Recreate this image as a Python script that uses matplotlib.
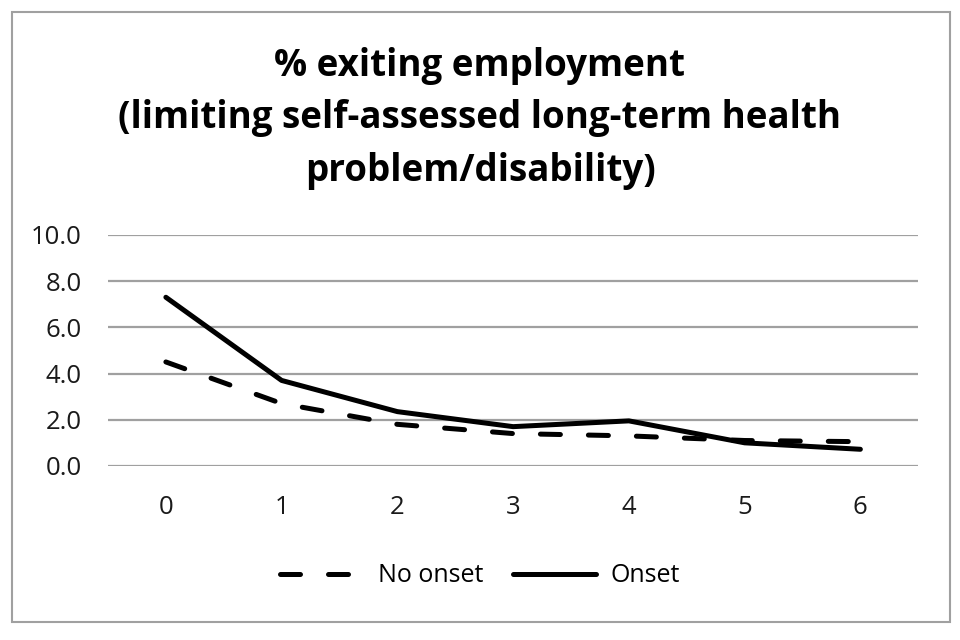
import matplotlib
matplotlib.use('Agg')
import matplotlib.pyplot as plt
from matplotlib.patches import Rectangle

plt.rcParams['font.family'] = ['Open Sans', 'DejaVu Sans']

years = [0, 1, 2, 3, 4, 5, 6]
no_onset = [4.5, 2.7, 1.8, 1.4, 1.3, 1.1, 1.05]
onset = [7.3, 3.7, 2.35, 1.7, 1.95, 1.0, 0.72]

fig = plt.figure(figsize=(9.6, 6.4), dpi=100)
fig.patches.append(Rectangle((0.013, 0.028), 0.977, 0.953, transform=fig.transFigure,
                             fill=False, edgecolor='#a0a0a0', linewidth=1.5))
ax = fig.add_axes([0.1125, 0.272, 0.844, 0.361])

ax.plot(years, no_onset, color='black', linewidth=3.6, dashes=(4, 5.6),
        solid_capstyle='round', dash_capstyle='round', label='No onset')
ax.plot(years, onset, color='black', linewidth=3.6, solid_capstyle='round',
        label='Onset')

ax.set_xlim(-0.5, 6.5)
ax.set_ylim(0, 10)
ax.set_yticks([0, 2, 4, 6, 8, 10])
ax.set_yticklabels(['%.1f' % v for v in [0, 2, 4, 6, 8, 10]])
ax.set_xticks(years)
ax.tick_params(axis='both', length=0, labelsize=18.5, colors='#1a1a1a')
ax.tick_params(axis='x', pad=21)
ax.tick_params(axis='y', pad=19)
ax.grid(axis='y', color='#a0a0a0', linewidth=1.6)
ax.set_axisbelow(True)
for s in ax.spines.values():
    s.set_visible(False)

fig.text(0.5, 0.815, '% exiting employment\n(limiting self-assessed long-term health\nproblem/disability)',
         ha='center', va='center', fontsize=26.5, fontweight='bold', linespacing=1.5)

leg = fig.legend(loc='center', bbox_to_anchor=(0.5, 0.1), ncol=2, frameon=False,
                 fontsize=18, handlelength=3.3, columnspacing=1.2, handletextpad=0.6)

plt.savefig('out.png', dpi=100)
